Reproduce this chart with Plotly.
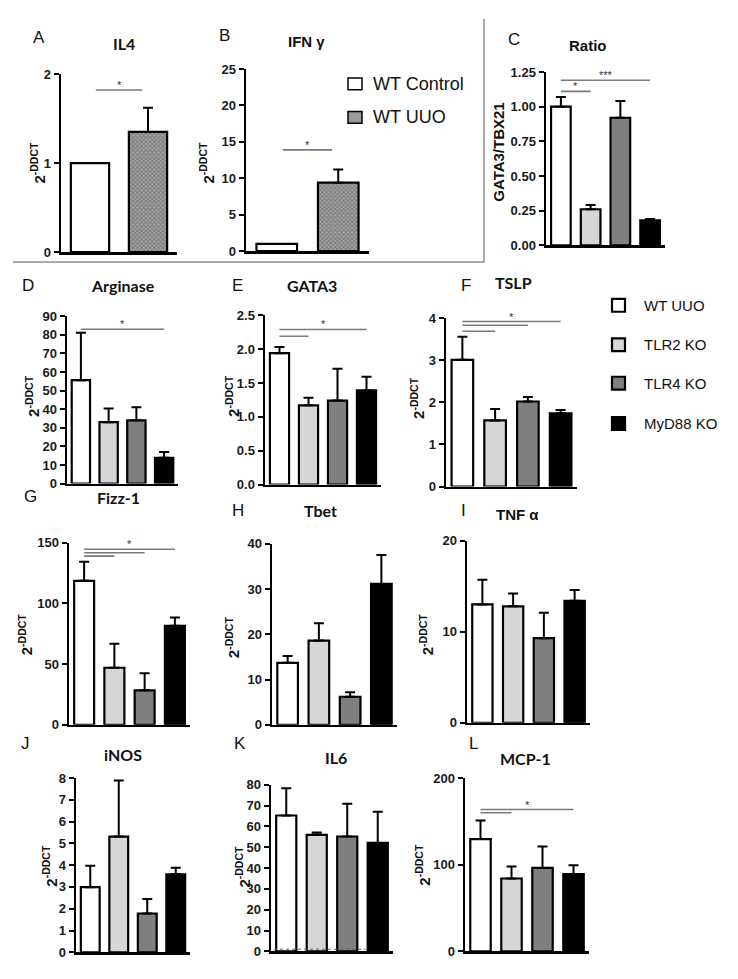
import plotly.graph_objects as go

W, H = 738, 979

# ---------------- data ----------------
groups2 = ["WT Control", "WT UUO"]
groups4 = ["WT UUO", "TLR2 KO", "TLR4 KO", "MyD88 KO"]

il4_mean = [1.0, 1.35]
il4_sem = [0.0, 0.27]
ifng_mean = [1.0, 9.4]
ifng_sem = [0.0, 1.8]
ratio_mean = [1.0, 0.26, 0.92, 0.18]
ratio_sem = [0.07, 0.03, 0.12, 0.01]
arg_mean = [55.6, 33.0, 34.0, 13.9]
arg_sem = [25.5, 7.4, 7.0, 3.1]
gata3_mean = [1.94, 1.17, 1.24, 1.39]
gata3_sem = [0.09, 0.11, 0.47, 0.20]
tslp_mean = [3.01, 1.57, 2.02, 1.74]
tslp_sem = [0.55, 0.27, 0.11, 0.08]
fizz_mean = [118.6, 47.0, 28.4, 81.6]
fizz_sem = [15.7, 19.8, 14.0, 6.8]
tbet_mean = [13.7, 18.6, 6.2, 31.1]
tbet_sem = [1.5, 3.8, 1.0, 6.4]
tnfa_mean = [13.0, 12.8, 9.3, 13.4]
tnfa_sem = [2.7, 1.4, 2.8, 1.2]
inos_mean = [2.99, 5.31, 1.78, 3.58]
inos_sem = [0.98, 2.57, 0.67, 0.30]
il6_mean = [65.3, 56.0, 55.2, 52.1]
il6_sem = [13.1, 1.1, 15.7, 15.0]
mcp1_mean = [129.5, 84.0, 96.2, 89.0]
mcp1_sem = [21.5, 14.0, 24.8, 10.2]

# significance bars: (from group, to group, y level)
il4_sig = [(0.1, 0.9, 1.82)]
ifng_sig = [(0.1, 0.9, 13.9)]
ratio_sig = [(0, 3, 1.19), (0, 1, 1.11)]
arg_sig = [(0, 3, 83)]
gata3_sig = [(0, 3, 2.29), (0, 1, 2.19)]
tslp_sig = [(0, 3, 3.92), (0, 2, 3.83), (0, 1, 3.69)]
fizz_sig = [(0, 3, 144.6), (0, 2, 141.7), (0, 1, 138.9)]
mcp1_sig = [(0, 3, 163.6), (0, 1, 159.9)]
il6_baseline = 1.0

# ---------------- styling ----------------
col2 = ["white", "#a8a8a8"]
pat2 = ["", "x"]
col4 = ["white", "#d6d6d6", "#7f7f7f", "black"]
ARIAL = "Liberation Sans, Arial, sans-serif"
CAL = "Lato, Open Sans, sans-serif"

panels = [
    dict(key="A", mean=il4_mean, sem=il4_sem, sig=il4_sig, star="*", ymax=2, dtick=1, fmt="{:.0f}",
         xpx=(61, 177), ypx=(68, 249), title="IL4", tfont=CAL, tpos=(124, 37), lpos=(39, 31), ypos=(38, 158)),
    dict(key="B", mean=ifng_mean, sem=ifng_sem, sig=ifng_sig, star="*", ymax=25, dtick=5, fmt="{:.0f}",
         xpx=(246, 369), ypx=(63, 248), title="IFN γ", tfont=ARIAL, tpos=(306, 35), lpos=(224, 29), ypos=(207, 158)),
    dict(key="C", mean=ratio_mean, sem=ratio_sem, sig=ratio_sig, star=["***", "*"], ymax=1.25, dtick=0.25, fmt="{:.2f}",
         xpx=(546, 665), ypx=(66, 242), title="Ratio", tfont=ARIAL, tpos=(588, 39), lpos=(514, 33), ypos=(499, 147),
         ytitle="GATA3/TBX21"),
    dict(key="D", mean=arg_mean, sem=arg_sem, sig=arg_sig, star="*", ymax=90, dtick=10, fmt="{:.0f}",
         xpx=(67, 178), ypx=(314, 484), title="Arginase", tfont=CAL, tpos=(123, 283), lpos=(28, 283), ypos=(33, 395)),
    dict(key="E", mean=gata3_mean, sem=gata3_sem, sig=gata3_sig, star="*", ymax=2.5, dtick=0.5, fmt="{:.1f}",
         xpx=(265, 381), ypx=(313, 485), title="GATA3", tfont=CAL, tpos=(312, 283), lpos=(238, 283), ypos=(233, 395)),
    dict(key="F", mean=tslp_mean, sem=tslp_sem, sig=tslp_sig, star="*", ymax=4, dtick=1, fmt="{:.0f}",
         xpx=(446, 577), ypx=(316, 487), title="TSLP", tfont=CAL, tpos=(513, 280), lpos=(466, 283), ypos=(418, 397)),
    dict(key="G", mean=fizz_mean, sem=fizz_sem, sig=fizz_sig, star="*", ymax=150, dtick=50, fmt="{:.0f}",
         xpx=(69, 190), ypx=(544, 729), title="Fizz-1", tfont=CAL, tpos=(118, 498), lpos=(30, 497), ypos=(25, 637)),
    dict(key="H", mean=tbet_mean, sem=tbet_sem, sig=[], star="*", ymax=40, dtick=10, fmt="{:.0f}",
         xpx=(272, 397), ypx=(545, 729), title="Tbet", tfont=CAL, tpos=(320, 511), lpos=(238, 511), ypos=(232, 640)),
    dict(key="I", mean=tnfa_mean, sem=tnfa_sem, sig=[], star="*", ymax=20, dtick=10, fmt="{:.0f}",
         xpx=(467, 590), ypx=(542, 727), title="TNF α", tfont=ARIAL, tpos=(517, 515), lpos=(463, 511), ypos=(426, 637)),
    dict(key="J", mean=inos_mean, sem=inos_sem, sig=[], star="*", ymax=8, dtick=1, fmt="{:.0f}",
         xpx=(76, 190), ypx=(783, 960), title="iNOS", tfont=CAL, tpos=(123, 759), lpos=(26, 748), ypos=(50, 872)),
    dict(key="K", mean=il6_mean, sem=il6_sem, sig=[], star="*", ymax=80, dtick=10, fmt="{:.0f}",
         xpx=(271, 393), ypx=(790, 959), title="IL6", tfont=CAL, tpos=(336, 762), lpos=(240, 748), ypos=(243, 873)),
    dict(key="L", mean=mcp1_mean, sem=mcp1_sem, sig=mcp1_sig, star="*", ymax=200, dtick=100, fmt="{:.0f}",
         xpx=(465, 589), ypx=(783, 959), title="MCP-1", tfont=CAL, tpos=(525, 763), lpos=(473, 748), ypos=(423, 871)),
]

fig = go.Figure()
annotations = []
shapes = []


def px(x):
    return x / W


def py(y):
    return 1 - y / H


for i, p in enumerate(panels, start=1):
    n = len(p["mean"])
    xa = "x" if i == 1 else f"x{i}"
    ya = "y" if i == 1 else f"y{i}"
    if n == 2:
        colors, patterns = col2, pat2
    else:
        colors, patterns = col4, [""] * 4
    xs = list(range(n))
    fg = "#%02x%02x%02x" % (0x30 + i, 0x30 + i, 0x30 + i)
    fig.add_trace(go.Bar(
        x=xs, y=p["mean"], xaxis=xa, yaxis=ya, width=0.66,
        marker=dict(color=colors, line=dict(color="black", width=2.2),
                    pattern=dict(shape=patterns, size=3, solidity=0.5, fgcolor=fg, bgcolor="#c8c8c8")),
        error_y=dict(type="data", symmetric=False, array=p["sem"], arrayminus=[0] * n,
                     color="black", thickness=2, width=5),
        showlegend=False, hoverinfo="skip",
    ))
    nticks = int(round(p["ymax"] / p["dtick"]))
    tv = [k * p["dtick"] for k in range(nticks + 1)]
    fig.layout[("xaxis" if i == 1 else f"xaxis{i}")] = dict(
        domain=[px(p["xpx"][0]), px(p["xpx"][1])], range=[-0.5, n - 0.5],
        showline=True, linecolor="black", linewidth=2.5, showticklabels=False,
        ticks="", showgrid=False, zeroline=False, anchor=ya, fixedrange=True)
    fig.layout[("yaxis" if i == 1 else f"yaxis{i}")] = dict(
        domain=[py(p["ypx"][1]), py(p["ypx"][0])], range=[0, p["ymax"]],
        tickvals=tv, ticktext=["<b>" + p["fmt"].format(v) + "</b>" for v in tv],
        ticks="outside", ticklen=5, tickwidth=2, tickcolor="black",
        showline=True, linecolor="black", linewidth=2.5, showgrid=False, zeroline=False,
        tickfont=dict(family=ARIAL, size=13, color="#1a1a1a"),
        anchor=xa, fixedrange=True)
    # significance lines
    stars = p["star"] if isinstance(p["star"], list) else [p["star"]] * len(p["sig"])
    for j, (a, b, yv) in enumerate(p["sig"]):
        shapes.append(dict(type="line", xref=xa, yref=ya, x0=a, x1=b, y0=yv, y1=yv,
                           line=dict(color="#7a7a7a", width=1.6)))
        if j == 0 or isinstance(p["star"], list):
            annotations.append(dict(xref=xa, yref=ya, x=(a + b) / 2, y=yv, text=stars[j],
                                    showarrow=False, yanchor="bottom", yshift=-3,
                                    font=dict(family=ARIAL, size=11, color="#333333")))
    # title
    if p["tfont"] == CAL:
        tfont = dict(family=CAL, size=16, color="#111111", weight="bold")
    else:
        tfont = dict(family=ARIAL, size=15, color="#111111", weight="bold")
    annotations.append(dict(xref="paper", yref="paper", x=px(p["tpos"][0]), y=py(p["tpos"][1]),
                            text=p["title"], showarrow=False, xanchor="center", yanchor="middle",
                            font=tfont))
    # panel letter
    annotations.append(dict(xref="paper", yref="paper", x=px(p["lpos"][0]), y=py(p["lpos"][1]),
                            text=p["key"], showarrow=False, xanchor="center", yanchor="middle",
                            font=dict(family=ARIAL, size=17, color="#111111")))
    # y title
    yt = p.get("ytitle")
    ytxt = f"<b>{yt}</b>" if yt else "<b>2<sup>-DDCT</sup></b>"
    annotations.append(dict(xref="paper", yref="paper", x=px(p["ypos"][0]), y=py(p["ypos"][1]),
                            text=ytxt, showarrow=False, xanchor="center", yanchor="middle", textangle=-90,
                            font=dict(family=ARIAL, size=15, color="#111111")))

# dotted baseline in IL6 panel (K is panel 11)
shapes.append(dict(type="line", xref="x11", yref="y11", x0=-0.4, x1=2.6, y0=il6_baseline, y1=il6_baseline,
                   line=dict(color="#666666", width=1, dash="dot")))

# frame lines around top-left block
shapes.append(dict(type="line", xref="paper", yref="paper", x0=px(13), x1=px(484), y0=py(259), y1=py(259),
                   line=dict(color="#555555", width=1)))
shapes.append(dict(type="line", xref="paper", yref="paper", x0=px(484), x1=px(484), y0=py(12), y1=py(259),
                   line=dict(color="#555555", width=1)))

# legend 1 (top)
leg1_fill = ["white", "#9a9a9a"]
leg1_y = [78, 112]
for name, fc, yc in zip(groups2, leg1_fill, leg1_y):
    shapes.append(dict(type="rect", xref="paper", yref="paper", x0=px(348), x1=px(362), y0=py(yc + 6), y1=py(yc - 6),
                       fillcolor=fc, line=dict(color="black", width=1.5)))
    annotations.append(dict(xref="paper", yref="paper", x=px(371), y=py(yc), text=name, showarrow=False,
                            xanchor="left", yanchor="middle", font=dict(family=ARIAL, size=18, color="#111111")))

# legend 2 (bottom)
leg2_y = [303, 343, 382, 423]
for name, fc, yc in zip(groups4, col4, leg2_y):
    shapes.append(dict(type="rect", xref="paper", yref="paper", x0=px(612), x1=px(625), y0=py(yc + 6.5), y1=py(yc - 6.5),
                       fillcolor=fc, line=dict(color="black", width=2.2)))
    annotations.append(dict(xref="paper", yref="paper", x=px(642), y=py(yc), text=name, showarrow=False,
                            xanchor="left", yanchor="middle", font=dict(family=ARIAL, size=15, color="#111111")))

fig.update_layout(
    width=W, height=H, margin=dict(l=0, r=0, t=0, b=0),
    paper_bgcolor="white", plot_bgcolor="rgba(0,0,0,0)",
    annotations=annotations, shapes=shapes, bargap=0.3,
)
fig.write_html("out.html", config={"displayModeBar": False, "staticPlot": True},
               post_script="document.body.style.margin='0px';document.body.style.overflow='hidden';")
